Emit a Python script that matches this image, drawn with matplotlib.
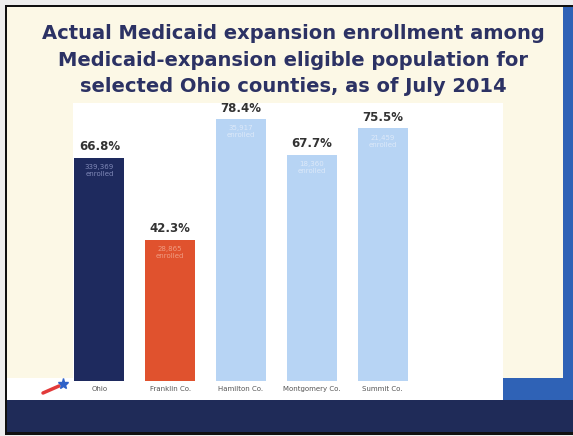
import matplotlib.pyplot as plt
from matplotlib.patches import Rectangle
from matplotlib.lines import Line2D

# data
counties = ['Ohio', 'Franklin Co.', 'Hamilton Co.', 'Montgomery Co.', 'Summit Co.']
pct = [66.8, 42.3, 78.4, 67.7, 75.5]
enrolled = ['339,369', '28,865', '35,917', '18,360', '21,459']
bar_colors = ['#1e2a5e', '#e0522e', '#b7d4f4', '#b7d4f4', '#b7d4f4']
inner_colors = ['#8089b8', '#f09c82', '#dde9f9', '#dde9f9', '#dde9f9']

title = ('Actual Medicaid expansion enrollment among\n'
         'Medicaid-expansion eligible population for\n'
         'selected Ohio counties, as of July 2014')

W, H = 573, 436
fig = plt.figure(figsize=(W / 100, H / 100), dpi=100)
fig.patch.set_facecolor('#eeeeee')


def px_rect(x0, y0, x1, y1, color, **kw):
    # pixel box (from top-left) -> figure fraction
    r = Rectangle((x0 / W, 1 - y1 / H), (x1 - x0) / W, (y1 - y0) / H,
                  transform=fig.transFigure, facecolor=color, edgecolor='none',
                  zorder=-5, **kw)
    fig.add_artist(r)


# slide background pieces
px_rect(5, 5, 573, 435, '#111111')
px_rect(7, 7, 563, 378, '#fcf8e6')
px_rect(73, 103, 503, 400, '#ffffff')
px_rect(7, 378, 503, 400, '#ffffff')
px_rect(563, 7, 573, 378, '#2f62b6')
px_rect(503, 378, 573, 400, '#2f62b6')
px_rect(7, 400, 573, 432, '#1f2b58')

fig.text(293 / W, 1 - 60 / H, title, ha='center', va='center', fontsize=14.0,
         fontweight='bold', color='#2c3264', linespacing=1.53)

# little logo: red swoosh with blue star
fig.add_artist(Line2D([43 / W, 59 / W], [1 - 393 / H, 1 - 386 / H], transform=fig.transFigure,
                      color='#e23a3a', lw=2.5, solid_capstyle='round'))
fig.add_artist(Line2D([63 / W], [1 - 384 / H], transform=fig.transFigure, marker='*',
                      markersize=8, color='#2f62c8', lw=0))

ax = fig.add_axes([64 / W, 1 - 381 / H, 354 / W, 334.5 / H])
ax.set_zorder(5)
ax.patch.set_alpha(0)
x = list(range(len(counties)))
ax.bar(x, pct, width=0.707, color=bar_colors)
ax.set_xlim(-0.5, 4.5)
ax.set_ylim(0, 100)
ax.axis('off')

for i, v in enumerate(pct):
    ax.text(i, v + 3.2, f'{v}%', ha='center', va='center', fontsize=8.5,
            fontweight='bold', color='#333333')
    ax.text(i, v - 2.0, f'{enrolled[i]}\nenrolled', ha='center', va='top',
            fontsize=5, color=inner_colors[i], linespacing=1.2)
    ax.text(i, -2.4, counties[i], ha='center', va='center', fontsize=5,
            color='#555555', clip_on=False)

fig.savefig('out.png', dpi=100, facecolor=fig.get_facecolor())
